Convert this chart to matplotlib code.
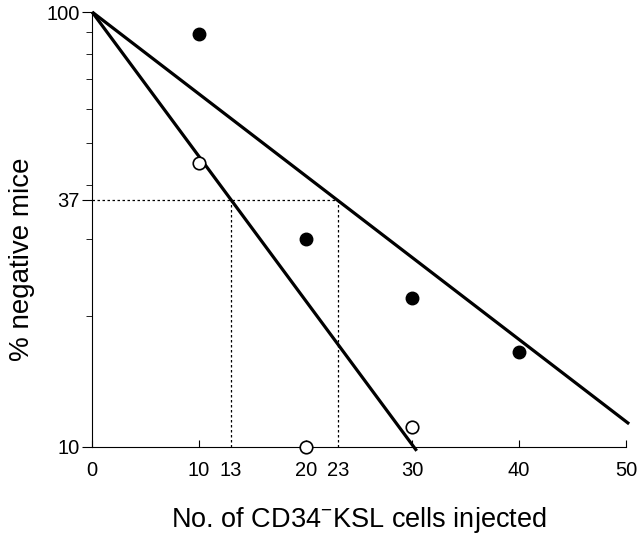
import numpy as np
import matplotlib
matplotlib.use("Agg")
import matplotlib.pyplot as plt

# data
filled_x = [10, 20, 30, 40]
filled_y = [89, 30, 22, 16.5]
open_x = [10, 20, 30]
open_y = [45, 10, 11.1]

# fitted lines (end points)
line1_x = [0, 30.4]
line1_y = [100, 9.8]
line2_x = [0, 50.3]
line2_y = [100, 11.3]

# 37 % read-offs
cut_y = 37
cut_x = [13, 23]

xticks = [0, 10, 13, 20, 23, 30, 40, 50]
yticks = [10, 37, 100]

plt.rcParams["font.family"] = ["Liberation Sans", "DejaVu Sans"]
plt.rcParams["mathtext.fontset"] = "custom"
plt.rcParams["mathtext.rm"] = "Liberation Sans"

fig = plt.figure(figsize=(6.4, 5.35), dpi=100)
ax = fig.add_axes([0.144, 0.1645, 0.834, 0.813])

ax.set_yscale("log")
ax.set_xlim(0, 50)
ax.set_ylim(10, 100)

# dotted guide lines
ax.plot([0, cut_x[1]], [cut_y, cut_y], color="black", lw=0.9, ls=(0, (2, 2)))
for cx in cut_x:
    ax.plot([cx, cx], [10, cut_y], color="black", lw=0.9, ls=(0, (2, 2)))

ax.plot(line1_x, line1_y, color="black", lw=2.3, clip_on=False, solid_capstyle="butt")
ax.plot(line2_x, line2_y, color="black", lw=2.3, clip_on=False, solid_capstyle="butt")

ax.plot(filled_x, filled_y, "o", color="black", ms=9, clip_on=False, zorder=5)
ax.plot(open_x, open_y, "o", mfc="white", mec="black", mew=1.2, ms=9,
        clip_on=False, zorder=5)

ax.spines["top"].set_visible(False)
ax.spines["right"].set_visible(False)

ax.set_yticks(yticks)
ax.set_yticklabels([str(v) for v in yticks])
ax.set_yticks([20, 30, 40, 50, 60, 70, 80, 90], minor=True)
ax.yaxis.set_minor_formatter(matplotlib.ticker.NullFormatter())
ax.tick_params(axis="y", which="major", length=7, labelsize=14.5, pad=2)
ax.tick_params(axis="y", which="minor", length=4)

ax.set_xticks(xticks)
ax.set_xticklabels([str(v) for v in xticks])
ax.tick_params(axis="x", direction="in", length=5, labelsize=14.5, pad=10)
for t, v in zip(ax.xaxis.get_major_ticks(), xticks):
    if v in cut_x:
        t.tick1line.set_visible(False)

ax.set_xlabel("No. of CD34$^{-}$KSL cells injected", fontsize=19.5, labelpad=18)
ax.set_ylabel("% negative mice", fontsize=20)
ax.yaxis.set_label_coords(-0.108, 0.432)

fig.savefig("out.png", dpi=100)
